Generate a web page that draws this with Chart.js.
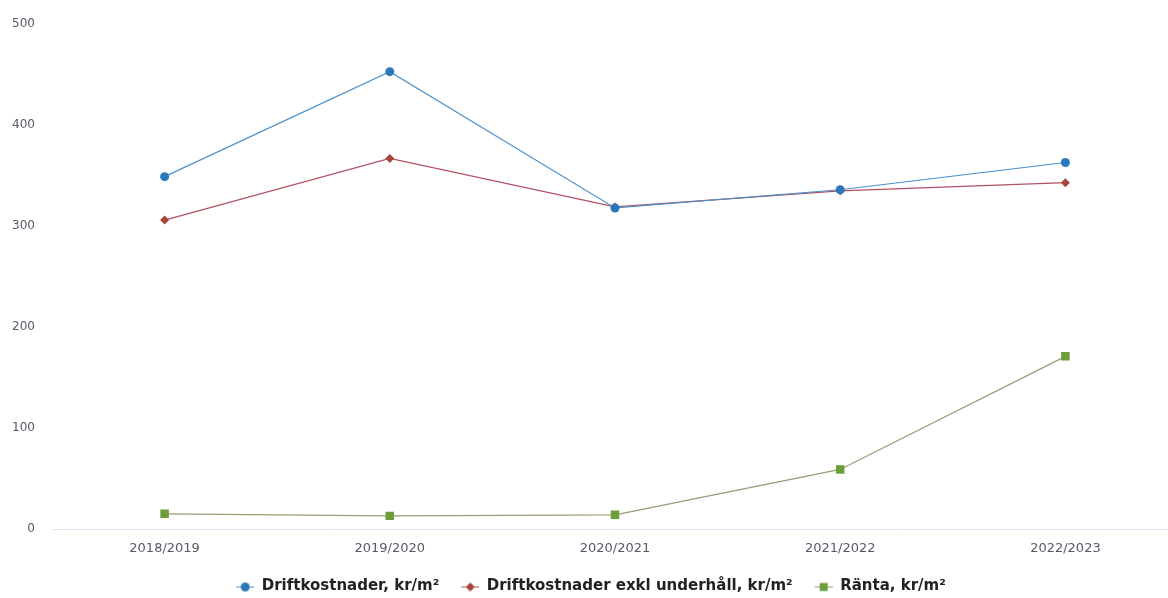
<!DOCTYPE html>
<html>
<head>
<meta charset="utf-8">
<script src="https://cdn.jsdelivr.net/npm/chart.js@4"></script>
<style>
  html, body { margin: 0; padding: 0; background: #fff; overflow: hidden; }
  #wrap { width: 1184px; height: 604px; }
</style>
</head>
<body>
<div id="wrap"><canvas id="chart"></canvas></div>
<script>
let years = ['2018/2019', '2019/2020', '2020/2021', '2021/2022', '2022/2023'];
let drift = [349, 453, 318, 336, 363];
let driftExkl = [306, 367, 319, 335, 343];
let ranta = [15, 13, 14, 59, 171];
let yTicks = [0, 100, 200, 300, 400, 500];

// small line+marker pictures for the legend (with empty space on the left as item gap)
function legendIcon(col, lineCol, style){
    var lead = 18;
    var c = document.createElement('canvas');
    c.width = lead + 18; c.height = 12;
    var g = c.getContext('2d');
    var m = lead + 9;
    g.strokeStyle = lineCol;
    g.lineWidth = 1;
    g.beginPath(); g.moveTo(lead, 6.5); g.lineTo(lead + 18, 6.5); g.stroke();
    g.fillStyle = col;
    g.beginPath();
    if(style == 'circle'){
        g.arc(m, 6.5, 4.5, 0, Math.PI * 2);
    } else if(style == 'diamond'){
        g.moveTo(m, 2); g.lineTo(m + 4.5, 6.5); g.lineTo(m, 11); g.lineTo(m - 4.5, 6.5);
    } else {
        g.rect(m - 4, 2.5, 8, 8);
    }
    g.fill();
    return c;
}

let sets = [
    {label: 'Driftkostnader, kr/m\u00b2', data: drift, borderColor: '#4a90cc', backgroundColor: '#2a78b8',
     pointStyle: 'circle', pointRadius: 4.5, icon: legendIcon('#2a78b8', '#4a90cc', 'circle')},
    {label: 'Driftkostnader exkl underh\u00e5ll, kr/m\u00b2', data: driftExkl, borderColor: '#b05060', backgroundColor: '#a8443c',
     pointStyle: 'rectRot', pointRadius: 4.5, icon: legendIcon('#a8443c', '#b05060', 'diamond')},
    {label: 'R\u00e4nta, kr/m\u00b2', data: ranta, borderColor: '#9a9c72', backgroundColor: '#6e9e3a',
     pointStyle: 'rect', pointRadius: 6, icon: legendIcon('#6e9e3a', '#9a9c72', 'square')}
];

let datasets = sets.map(function(s){
    return {
        label: s.label,
        data: s.data,
        borderColor: s.borderColor,
        backgroundColor: s.backgroundColor,
        pointBackgroundColor: s.backgroundColor,
        pointBorderWidth: 0,
        pointStyle: s.pointStyle,
        pointRadius: s.pointRadius,
        borderWidth: 1.2,
        tension: 0
    };
});

// nudge the legend left so the visible part is centred like the original
let shiftLegend = {
    id: 'shiftLegend',
    afterLayout: function(ch){
        ch.legend.left -= 9;
        ch.legend.right -= 9;
    }
};

var ctx = document.getElementById('chart').getContext('2d');
var chart = new Chart(ctx, {
    type: 'line',
    data: { labels: years, datasets: datasets },
    plugins: [shiftLegend],
    options: {
        responsive: true,
        maintainAspectRatio: false,
        animation: false,
        layout: { padding: { top: 8, left: 0, right: 2, bottom: 0 } },
        plugins: {
            tooltip: { enabled: false },
            legend: {
                position: 'bottom',
                labels: {
                    usePointStyle: true,
                    pointStyleWidth: 36,
                    boxHeight: 12,
                    padding: 4,
                    color: '#222',
                    font: { family: '"DejaVu Sans", sans-serif', size: 15, weight: 'bold' },
                    generateLabels: function(ch){
                        return sets.map(function(s, i){
                            return {
                                text: s.label,
                                pointStyle: s.icon,
                                fillStyle: s.backgroundColor,
                                strokeStyle: s.borderColor,
                                lineWidth: 0,
                                hidden: false,
                                datasetIndex: i,
                                fontColor: '#222'
                            };
                        });
                    }
                }
            }
        },
        scales: {
            x: {
                offset: true,
                afterFit: function(ax){ ax.height = 46; },
                grid: { display: false, drawTicks: false },
                border: { display: true, color: '#d3e3f1', width: 1 },
                ticks: { color: '#555a66', padding: 12, font: { family: '"DejaVu Sans", sans-serif', size: 13 } }
            },
            y: {
                min: 0, max: 500,
                afterBuildTicks: function(ax){ ax.ticks = yTicks.map(function(v){ return {value: v}; }); },
                afterFit: function(ax){ ax.width = 52; },
                grid: { display: false, drawTicks: false },
                border: { display: false },
                ticks: { color: '#555a66', padding: 17, font: { family: '"DejaVu Sans", sans-serif', size: 12 } }
            }
        }
    }
});
</script>
</body>
</html>
